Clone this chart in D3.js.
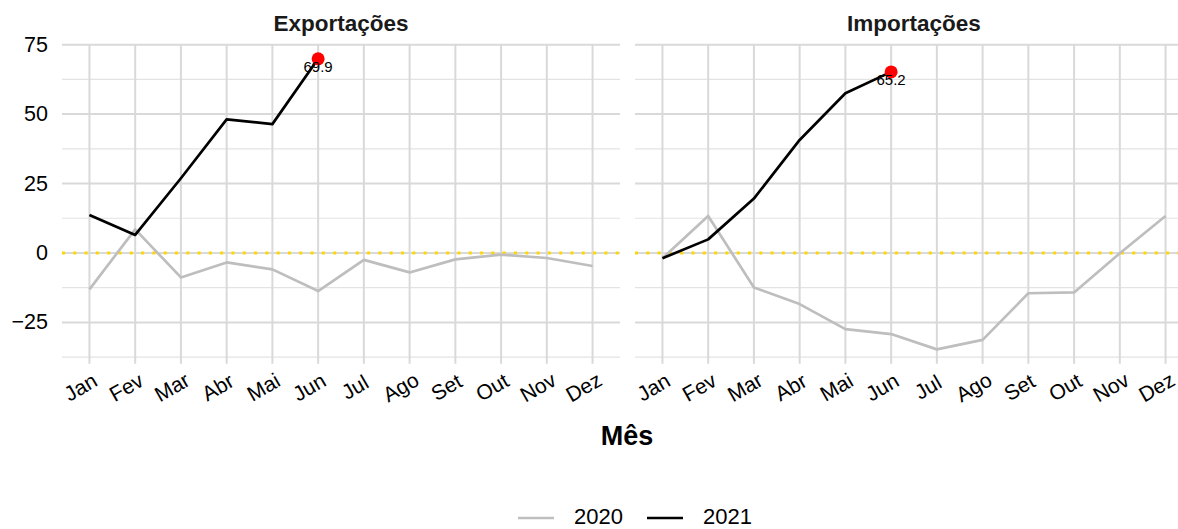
<!DOCTYPE html>
<html lang="pt">
<head>
    <meta charset="UTF-8">
    <title>Exportações e Importações por mês</title>
    <script src="https://d3js.org/d3.v7.min.js"></script>
    <style>
        body {
            margin: 0;
            background: #fff;
            font-family: "Liberation Sans", Arial, sans-serif;
        }
        .grid-major { stroke: #d9d9d9; stroke-width: 2; }
        .grid-minor { stroke: #e3e3e3; stroke-width: 1.2; }
        .line { fill: none; stroke-width: 2.7; stroke-linejoin: round; }
    </style>
</head>
<body>
    <div id="chart"></div>
    <script>
        // data
        const months = ["Jan", "Fev", "Mar", "Abr", "Mai", "Jun", "Jul", "Ago", "Set", "Out", "Nov", "Dez"];
        const panels = ["Exportações", "Importações"];
        const years = ["2020", "2021"];
        const exp2020 = [-13.1, 8.5, -8.8, -3.4, -5.9, -13.7, -2.5, -7.0, -2.3, -0.6, -1.8, -4.7];
        const exp2021 = [13.7, 6.5, 26.9, 48.1, 46.4, 69.9];
        const imp2020 = [-1.9, 13.3, -12.4, -18.4, -27.4, -29.2, -34.7, -31.3, -14.5, -14.2, -0.1, 13.3];
        const imp2021 = [-1.9, 4.9, 19.6, 40.7, 57.5, 65.2];
        const yTicks = [-25, 0, 25, 50, 75];
        const yMinor = [-37.5, -12.5, 12.5, 37.5, 62.5];

        const series = {
            "Exportações": { "2020": exp2020, "2021": exp2021 },
            "Importações": { "2020": imp2020, "2021": imp2021 }
        };
        const colors = d3.scaleOrdinal().domain(years).range(["#bebebe", "#000000"]);

        const width = 1178, height = 529;
        const panelW = 558;
        const panelX = [62, 635];
        const panelTop = 44.4, panelBottom = 363.8;

        const svg = d3.select("#chart").append("svg")
            .attr("width", width)
            .attr("height", height);

        const x = d3.scalePoint().domain(months).range([0, panelW]).padding(0.6);
        const y = d3.scaleLinear().domain([-39.9, 75.1]).range([panelBottom, panelTop]);

        panels.forEach((name, i) => {
            const g = svg.append("g").attr("transform", `translate(${panelX[i]},0)`);

            // grid
            g.selectAll(".minor").data(yMinor).enter().append("line")
                .attr("class", "grid-minor")
                .attr("x1", 0).attr("x2", panelW)
                .attr("y1", d => y(d)).attr("y2", d => y(d));
            g.selectAll(".major-y").data(yTicks).enter().append("line")
                .attr("class", "grid-major")
                .attr("x1", 0).attr("x2", panelW)
                .attr("y1", d => y(d)).attr("y2", d => y(d));
            g.selectAll(".major-x").data(months).enter().append("line")
                .attr("class", "grid-major")
                .attr("x1", d => x(d)).attr("x2", d => x(d))
                .attr("y1", panelTop).attr("y2", panelBottom);

            // zero line
            g.append("line")
                .attr("x1", 0).attr("x2", panelW)
                .attr("y1", y(0)).attr("y2", y(0))
                .attr("stroke", "#ffd700")
                .attr("stroke-width", 3.2)
                .attr("stroke-dasharray", "3,8.3");

            // strip title
            g.append("text")
                .attr("x", panelW / 2).attr("y", 31)
                .attr("text-anchor", "middle")
                .attr("font-weight", "bold")
                .attr("font-size", 22.5)
                .attr("fill", "#1a1a1a")
                .text(name);

            // x tick labels
            g.selectAll(".xlab").data(months).enter().append("text")
                .attr("transform", d => `translate(${x(d) - 9},387) rotate(-30)`)
                .attr("text-anchor", "middle")
                .attr("dominant-baseline", "central")
                .attr("font-size", 21)
                .attr("fill", "#000")
                .text(d => d);

            // lines
            const line = d3.line()
                .x((d, j) => x(months[j]))
                .y(d => y(d));
            years.forEach(yr => {
                g.append("path")
                    .datum(series[name][yr])
                    .attr("class", "line")
                    .attr("stroke", colors(yr))
                    .attr("d", line);
            });

            // last point + label
            const last = series[name]["2021"];
            const li = last.length - 1;
            g.append("circle")
                .attr("cx", x(months[li]))
                .attr("cy", y(last[li]))
                .attr("r", 6.5)
                .attr("fill", "#ff0000");
            g.append("text")
                .attr("x", x(months[li]))
                .attr("y", y(last[li]) + 13)
                .attr("text-anchor", "middle")
                .attr("font-size", 15)
                .attr("fill", "#000")
                .text(d3.format(".1f")(last[li]));
        });

        // y tick labels
        svg.selectAll(".ylab").data(yTicks).enter().append("text")
            .attr("x", 48)
            .attr("y", d => y(d))
            .attr("text-anchor", "end")
            .attr("dominant-baseline", "central")
            .attr("font-size", 21.5)
            .attr("fill", "#000")
            .text(d => d < 0 ? "\u2212" + Math.abs(d) : d);

        // x axis title
        svg.append("text")
            .attr("x", 627).attr("y", 445)
            .attr("text-anchor", "middle")
            .attr("font-weight", "bold")
            .attr("font-size", 27)
            .attr("fill", "#000")
            .text("Mês");

        // legend
        const legend = svg.selectAll(".legend").data(years).enter().append("g")
            .attr("transform", (d, i) => `translate(${518 + i * 129},518)`);
        legend.append("line")
            .attr("x1", 0).attr("x2", 36)
            .attr("stroke", d => colors(d))
            .attr("stroke-width", 2.7);
        legend.append("text")
            .attr("x", 56).attr("y", 6)
            .attr("font-size", 22)
            .attr("fill", "#000")
            .text(d => d);
    </script>
</body>
</html>
